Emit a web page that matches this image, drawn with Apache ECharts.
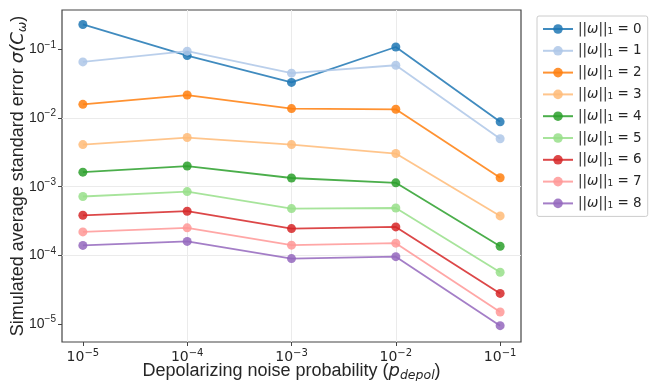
<!DOCTYPE html>
<html>
<head>
<meta charset="utf-8">
<script src="https://cdn.jsdelivr.net/npm/echarts@6/dist/echarts.min.js"></script>
<style>
  html, body { margin: 0; padding: 0; background: #fff; }
  #chart { width: 649px; height: 381px; }
</style>
</head>
<body>
<div id="chart"></div>
<script>
// noise probabilities (x) and one error curve per ||w||_1 value
const pDepol = [1e-5, 1e-4, 1e-3, 1e-2, 1e-1];
const weights = [0, 1, 2, 3, 4, 5, 6, 7, 8];
const err0 = [0.23, 0.081, 0.033, 0.108, 0.0088];
const err1 = [0.0655, 0.094, 0.045, 0.0586, 0.0050];
const err2 = [0.0158, 0.0216, 0.0137, 0.0134, 0.00135];
const err3 = [0.0041, 0.0052, 0.0041, 0.00304, 0.000376];
const err4 = [0.00163, 0.0020, 0.00134, 0.00114, 0.000136];
const err5 = [0.00072, 0.00085, 0.00048, 0.00049, 0.000057];
const err6 = [0.000384, 0.00044, 0.000246, 0.00026, 0.000028];
const err7 = [0.00022, 0.000252, 0.000141, 0.000151, 0.000015];
const err8 = [0.00014, 0.00016, 0.00009, 0.000096, 0.0000095];
const errs = [err0, err1, err2, err3, err4, err5, err6, err7, err8];
const colors = ['#1f77b4', '#aec7e8', '#ff7f0e', '#ffbb78', '#2ca02c',
                '#98df8a', '#d62728', '#ff9896', '#9467bd'];
// tick positions (log axes)
const xTicks = [1e-5, 1e-4, 1e-3, 1e-2, 1e-1];
const yTicks = [1e-5, 1e-4, 1e-3, 1e-2, 1e-1];

const FONT = 'DejaVu Sans';
const SANS = 'Liberation Sans';
const textColor = '#262626';

function powLabel(v) {
  const r = Math.round(Math.log10(v));
  return '{b|10}{s|' + (r < 0 ? '\u2212' : '') + Math.abs(r) + '}';
}

const xTickRich = {
  b: { fontSize: 14, fontFamily: FONT, color: textColor },
  s: { fontSize: 10, fontFamily: FONT, color: textColor, padding: [0, 0, 9, 0] }
};
const yTickRich = {
  b: { fontSize: 14, fontFamily: SANS, color: textColor },
  s: { fontSize: 10, fontFamily: SANS, color: textColor, padding: [0, 0, 9, 0] }
};

const nameRich = {
  n: { fontSize: 18, fontFamily: SANS, color: textColor },
  i: { fontSize: 18, fontFamily: FONT, fontStyle: 'italic', color: textColor },
  sub: { fontSize: 12.5, fontFamily: FONT, fontStyle: 'italic', color: textColor, padding: [8, 0, 0, 0] }
};

const series = weights.map((w, i) => ({
  name: String(w),
  type: 'line',
  data: pDepol.map((p, j) => [p, errs[i][j]]),
  symbol: 'circle',
  symbolSize: 9,
  color: colors[i],
  lineStyle: { width: 1.8, opacity: 0.85 },
  itemStyle: { opacity: 0.85 },
  emphasis: { disabled: true },
  animation: false
}));

const chart = echarts.init(document.getElementById('chart'), null, { renderer: 'canvas' });
chart.setOption({
  backgroundColor: '#fff',
  textStyle: { fontFamily: FONT },
  grid: {
    left: 62, right: 128, top: 10, bottom: 39,
    outerBoundsMode: 'none',
    containLabel: false,
    show: true, borderColor: '#444', borderWidth: 1.2, backgroundColor: 'transparent'
  },
  xAxis: {
    type: 'log',
    logBase: 10,
    min: Math.pow(10, -5.2),
    max: Math.pow(10, -0.8),
    axisLine: { show: false },
    axisTick: { show: true, customValues: xTicks, length: 4, lineStyle: { color: '#444', width: 1 } },
    splitLine: { show: true, showMinLine: false, showMaxLine: false, lineStyle: { color: '#ebebeb', width: 1 } },
    axisLabel: { customValues: xTicks, formatter: powLabel, rich: xTickRich, margin: 6 },
    name: '{n|Depolarizing noise probability (}{i|p}{sub|depol}{n|)}',
    nameLocation: 'middle',
    nameMoveOverlap: false,
    nameGap: 19,
    nameTextStyle: { rich: nameRich }
  },
  yAxis: {
    type: 'log',
    logBase: 10,
    min: Math.pow(10, -5.26),
    max: Math.pow(10, -0.428),
    axisLine: { show: false },
    axisTick: { show: true, customValues: yTicks, length: 4, lineStyle: { color: '#444', width: 1 } },
    splitLine: { show: true, showMinLine: false, showMaxLine: false, lineStyle: { color: '#ebebeb', width: 1 } },
    axisLabel: { customValues: yTicks, formatter: powLabel, rich: yTickRich, margin: 6 },
    name: '{n|Simulated average standard error }{i|\u03c3(C}{sub|\u03c9}{n|)}',
    nameLocation: 'middle',
    nameMoveOverlap: false,
    nameGap: 33,
    nameTextStyle: { rich: nameRich }
  },
  legend: {
    orient: 'vertical',
    left: 537,
    top: 16,
    padding: [6, 6, 6, 5],
    itemWidth: 30,
    itemHeight: 12,
    itemGap: 7.8,
    borderColor: '#cccccc',
    borderWidth: 1,
    borderRadius: 2,
    backgroundColor: '#fff',
    data: weights.map(w => String(w)),
    formatter: name => '{n|||}{i|\u03c9}{n|||}{s|1}{n| = ' + name + '}',
    textStyle: {
      rich: {
        n: { fontSize: 13.5, fontFamily: FONT, color: textColor },
        i: { fontSize: 13.5, fontFamily: FONT, fontStyle: 'italic', color: textColor },
        s: { fontSize: 9, fontFamily: FONT, color: textColor, padding: [5, 0, 0, 0] }
      }
    }
  },
  series: series
});
</script>
</body>
</html>
